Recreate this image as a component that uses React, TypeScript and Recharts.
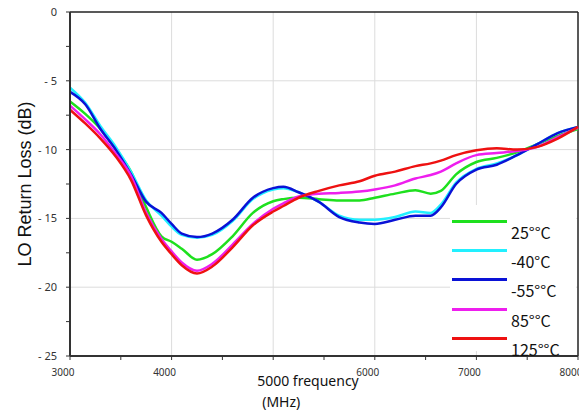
import { LineChart, Line, XAxis, YAxis, ReferenceLine } from "recharts";

// frequency points (MHz)
const freqs = [
  3000, 3150, 3300, 3450, 3600, 3750, 3900, 4000, 4100, 4250, 4400, 4600, 4800, 5000, 5100, 5250,
  5450, 5650, 5850, 6000, 6200, 6400, 6550, 6650, 6800, 7000, 7200, 7400, 7600, 7800, 8000,
];

// return loss in dB
const t25 = [
  -6.5, -7.4, -8.5, -10.0, -11.6, -14.2, -16.3, -16.7, -17.2, -18.0, -17.6, -16.3, -14.6, -13.75, -13.6, -13.5,
  -13.6, -13.7, -13.7, -13.5, -13.2, -12.95, -13.2, -13.0, -11.8, -10.9, -10.6, -10.2, -9.6, -9.0, -8.5,
];
const tm40 = [
  -5.5, -6.6, -8.3, -9.8, -11.6, -13.7, -14.8, -15.6, -16.2, -16.4, -16.2, -15.2, -13.6, -12.9, -12.8, -13.1,
  -13.8, -14.8, -15.1, -15.1, -14.9, -14.5, -14.6, -14.0, -12.4, -11.4, -11.0, -10.4, -9.6, -8.8, -8.35,
];
const tm55 = [
  -5.8, -6.7, -8.5, -10.0, -11.8, -13.8, -14.6, -15.4, -16.1, -16.35, -16.1, -15.1, -13.5, -12.8, -12.7, -13.1,
  -13.8, -14.9, -15.3, -15.4, -15.1, -14.8, -14.8, -14.2, -12.5, -11.45, -11.1, -10.4, -9.6, -8.8, -8.35,
];
const t85 = [
  -6.8, -7.8, -8.9, -10.3, -11.9, -14.6, -16.5, -17.4, -18.2, -18.8, -18.3, -16.9, -15.4, -14.3, -13.9, -13.4,
  -13.2, -13.15, -13.05, -12.9, -12.6, -12.1, -11.85, -11.6, -11.0, -10.4, -10.25, -10.1, -9.8, -9.1, -8.4,
];
const t125 = [
  -7.1, -8.1, -9.2, -10.5, -12.2, -14.8, -16.7, -17.6, -18.4, -19.0, -18.5, -17.1, -15.5, -14.5, -14.1, -13.5,
  -13.0, -12.6, -12.3, -11.9, -11.6, -11.2, -11.0, -10.8, -10.4, -10.05, -9.9, -10.0, -9.8, -9.2, -8.35,
];

const xTicks = [3000, 3500, 4000, 4500, 5000, 5500, 6000, 6500, 7000, 7500, 8000];
const xMajor = [3000, 4000, 5000, 6000, 7000, 8000];
const yTicks = [0, -2.5, -5, -7.5, -10, -12.5, -15, -17.5, -20, -22.5, -25];
const yMajor = [0, -5, -10, -15, -20, -25];
const xGrid = [4000, 5000, 6000, 7000];
const yGrid = [-5, -10, -15, -20];

const series = [
  { key: "t25", name: "25°°C", color: "#1ee01e", values: t25 },
  { key: "tm40", name: "-40°C", color: "#22f0ff", values: tm40 },
  { key: "tm55", name: "-55°°C", color: "#0a12d6", values: tm55 },
  { key: "t85", name: "85°°C", color: "#ee1eee", values: t85 },
  { key: "t125", name: "125°°C", color: "#ee1111", values: t125 },
];

const data = freqs.map((f, i) => {
  const row: Record<string, number> = { freq: f };
  series.forEach((s) => (row[s.key] = s.values[i]));
  return row;
});

function XTick({ x, y, payload }: any) {
  const v = payload.value;
  if (v === 5000) {
    return (
      <g>
        <text x={x - 16} y={y} dy={24} fontSize={14} fill="#111" textAnchor="start">
          5000 frequency
        </text>
        <text x={x - 11} y={y} dy={45} fontSize={14} fill="#111" textAnchor="start">
          (MHz)
        </text>
      </g>
    );
  }
  if (!xMajor.includes(v)) return null;
  return (
    <text x={x - 7} y={y} dy={14} fontSize={10} fill="#333" textAnchor="middle">
      {v}
    </text>
  );
}

function YTick({ x, y, payload }: any) {
  const v = payload.value;
  if (!yMajor.includes(v)) return null;
  const label = v === 0 ? "0" : "- " + Math.abs(v);
  return (
    <text x={x} y={y} dy={4} fontSize={11} fill="#333" textAnchor="end">
      {label}
    </text>
  );
}

// legend box sits inside the plot, lower right, with a white background
function LegendBox() {
  return (
    <div
      style={{
        position: "absolute",
        left: 442,
        top: 197,
        width: 126,
        height: 146,
        background: "#fff",
      }}
    >
      {series.map((s, i) => (
        <div key={s.key}>
          <div
            style={{
              position: "absolute",
              left: 2,
              top: 15 + i * 29.2,
              width: 55,
              height: 3,
              background: s.color,
            }}
          />
          <div
            style={{
              position: "absolute",
              left: 61,
              top: 17 + i * 29.2,
              lineHeight: "20px",
              fontSize: 16,
              color: "#111",
              fontFamily: "'Noto Sans CJK SC', 'Noto Sans', sans-serif",
              whiteSpace: "nowrap",
            }}
          >
            {s.name}
          </div>
        </div>
      ))}
    </div>
  );
}

export default function App() {
  return (
    <div style={{ position: "relative", width: 579, height: 408, fontFamily: "'Noto Sans', sans-serif" }}>
      <style>{"html { overflow: hidden; } .recharts-surface { overflow: visible; }"}</style>
      <LineChart width={579} height={408} data={data} margin={{ top: 4, right: 9, bottom: 8, left: 22 }}>
        {xGrid.map((v) => (
          <ReferenceLine key={"gx" + v} x={v} stroke="#dcdcdc" strokeWidth={1} />
        ))}
        {yGrid.map((v) => (
          <ReferenceLine key={"gy" + v} y={v} stroke="#dcdcdc" strokeWidth={1} />
        ))}
        <ReferenceLine y={0} stroke="#222" strokeWidth={1.5} />
        <ReferenceLine x={8000} stroke="#222" strokeWidth={1.5} />
        <XAxis
          dataKey="freq"
          type="number"
          domain={[3000, 8000]}
          ticks={xTicks}
          interval={0}
          height={52}
          axisLine={{ stroke: "#333", strokeWidth: 2 }}
          tickLine={{ stroke: "#333" }}
          tickSize={4}
          tick={<XTick />}
        />
        <YAxis
          type="number"
          domain={[-25, 0]}
          ticks={yTicks}
          interval={0}
          width={40}
          axisLine={{ stroke: "#333", strokeWidth: 2 }}
          tickLine={{ stroke: "#333" }}
          tickSize={4}
          tickMargin={9}
          tick={<YTick />}
          label={{
            value: "LO Return Loss (dB)",
            angle: -90,
            position: "insideLeft",
            offset: 0,
            dx: -5,
            style: {
              fontSize: 18,
              fill: "#111",
              fontFamily: "'Liberation Sans', Arial, sans-serif",
              textAnchor: "middle",
            },
          }}
        />
        {series.map((s) => (
          <Line
            key={s.key}
            dataKey={s.key}
            name={s.name}
            type="monotone"
            stroke={s.color}
            strokeWidth={2.5}
            dot={false}
            isAnimationActive={false}
          />
        ))}
      </LineChart>
      <LegendBox />
    </div>
  );
}
